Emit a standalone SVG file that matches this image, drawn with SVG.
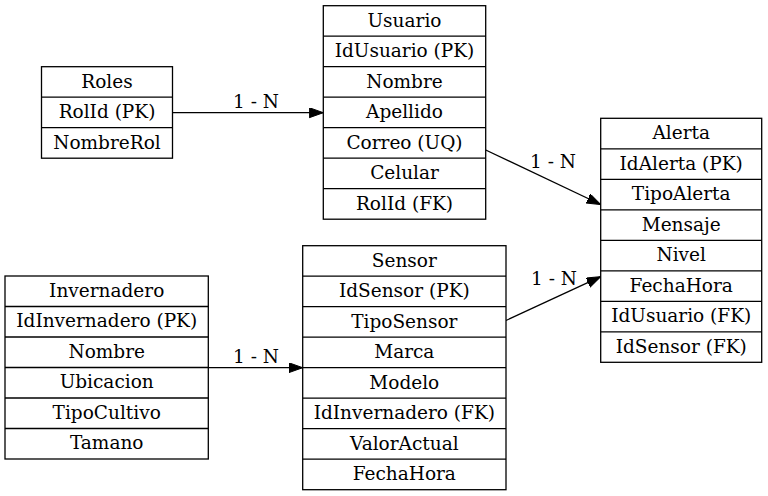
<svg xmlns="http://www.w3.org/2000/svg" width="768" height="496" viewBox="0 0 768 496">
<defs>
<style>
.box{fill:#fff;stroke:#000;stroke-width:1.3}
.sep{stroke:#000;stroke-width:1.3}
text{font-family:"DejaVu Serif",serif;font-size:18.5px;fill:#000;text-anchor:middle}
.edge{stroke:#000;stroke-width:1.3;fill:none}
</style>
<marker id="arr" markerUnits="userSpaceOnUse" markerWidth="15" markerHeight="11" refX="14" refY="5" orient="auto">
<path d="M0,0 L14,5 L0,10 z" fill="#000" stroke="#000" stroke-width="1"/>
</marker>
</defs>
<rect width="768" height="496" fill="#fff"/>

<g id="connectors">
<line class="edge" x1="172.5" y1="112.7" x2="323.3" y2="112.7" marker-end="url(#arr)"/>
<text x="256" y="108.3">1 - N</text>
<line class="edge" x1="485.7" y1="150" x2="600.7" y2="204.5" marker-end="url(#arr)"/>
<text x="553" y="168.3">1 - N</text>
<line class="edge" x1="506" y1="320.5" x2="600.7" y2="276.7" marker-end="url(#arr)"/>
<text x="554" y="285">1 - N</text>
<line class="edge" x1="208.3" y1="367.7" x2="302.7" y2="367.7" marker-end="url(#arr)"/>
<text x="256" y="363.3">1 - N</text>
</g>

<g id="Roles">
<rect class="box" x="41.5" y="66.7" width="131" height="91.5"/>
<line class="sep" x1="41.5" y1="97.2" x2="172.5" y2="97.2"/>
<line class="sep" x1="41.5" y1="127.7" x2="172.5" y2="127.7"/>
<text x="107" y="87.5">Roles</text>
<text x="107" y="118">RolId (PK)</text>
<text x="107" y="148.5">NombreRol</text>
</g>

<g id="Usuario">
<rect class="box" x="323.3" y="5.7" width="162.4" height="213.5"/>
<line class="sep" x1="323.3" y1="36.2" x2="485.7" y2="36.2"/>
<line class="sep" x1="323.3" y1="66.7" x2="485.7" y2="66.7"/>
<line class="sep" x1="323.3" y1="97.2" x2="485.7" y2="97.2"/>
<line class="sep" x1="323.3" y1="127.7" x2="485.7" y2="127.7"/>
<line class="sep" x1="323.3" y1="158.2" x2="485.7" y2="158.2"/>
<line class="sep" x1="323.3" y1="188.7" x2="485.7" y2="188.7"/>
<text x="404.5" y="26.5">Usuario</text>
<text x="404.5" y="57">IdUsuario (PK)</text>
<text x="404.5" y="87.5">Nombre</text>
<text x="404.5" y="118">Apellido</text>
<text x="404.5" y="148.5">Correo (UQ)</text>
<text x="404.5" y="179">Celular</text>
<text x="404.5" y="209.5">RolId (FK)</text>
</g>

<g id="Alerta">
<rect class="box" x="600.7" y="118.3" width="161" height="244"/>
<line class="sep" x1="600.7" y1="148.8" x2="761.7" y2="148.8"/>
<line class="sep" x1="600.7" y1="179.3" x2="761.7" y2="179.3"/>
<line class="sep" x1="600.7" y1="209.8" x2="761.7" y2="209.8"/>
<line class="sep" x1="600.7" y1="240.3" x2="761.7" y2="240.3"/>
<line class="sep" x1="600.7" y1="270.8" x2="761.7" y2="270.8"/>
<line class="sep" x1="600.7" y1="301.3" x2="761.7" y2="301.3"/>
<line class="sep" x1="600.7" y1="331.8" x2="761.7" y2="331.8"/>
<text x="681.2" y="139.1">Alerta</text>
<text x="681.2" y="169.6">IdAlerta (PK)</text>
<text x="681.2" y="200.1">TipoAlerta</text>
<text x="681.2" y="230.6">Mensaje</text>
<text x="681.2" y="261.1">Nivel</text>
<text x="681.2" y="291.6">FechaHora</text>
<text x="681.2" y="322.1">IdUsuario (FK)</text>
<text x="681.2" y="352.6">IdSensor (FK)</text>
</g>

<g id="Invernadero">
<rect class="box" x="5" y="276" width="203.3" height="183"/>
<line class="sep" x1="5" y1="306.5" x2="208.3" y2="306.5"/>
<line class="sep" x1="5" y1="337" x2="208.3" y2="337"/>
<line class="sep" x1="5" y1="367.5" x2="208.3" y2="367.5"/>
<line class="sep" x1="5" y1="398" x2="208.3" y2="398"/>
<line class="sep" x1="5" y1="428.5" x2="208.3" y2="428.5"/>
<text x="106.7" y="296.8">Invernadero</text>
<text x="106.7" y="327.3">IdInvernadero (PK)</text>
<text x="106.7" y="357.8">Nombre</text>
<text x="106.7" y="388.3">Ubicacion</text>
<text x="106.7" y="418.8">TipoCultivo</text>
<text x="106.7" y="449.3">Tamano</text>
</g>

<g id="Sensor">
<rect class="box" x="302.7" y="245.7" width="203.3" height="244"/>
<line class="sep" x1="302.7" y1="276.2" x2="506" y2="276.2"/>
<line class="sep" x1="302.7" y1="306.7" x2="506" y2="306.7"/>
<line class="sep" x1="302.7" y1="337.2" x2="506" y2="337.2"/>
<line class="sep" x1="302.7" y1="367.7" x2="506" y2="367.7"/>
<line class="sep" x1="302.7" y1="398.2" x2="506" y2="398.2"/>
<line class="sep" x1="302.7" y1="428.7" x2="506" y2="428.7"/>
<line class="sep" x1="302.7" y1="459.2" x2="506" y2="459.2"/>
<text x="404.3" y="266.5">Sensor</text>
<text x="404.3" y="297">IdSensor (PK)</text>
<text x="404.3" y="327.5">TipoSensor</text>
<text x="404.3" y="358">Marca</text>
<text x="404.3" y="388.5">Modelo</text>
<text x="404.3" y="419">IdInvernadero (FK)</text>
<text x="404.3" y="449.5">ValorActual</text>
<text x="404.3" y="480">FechaHora</text>
</g>
</svg>
